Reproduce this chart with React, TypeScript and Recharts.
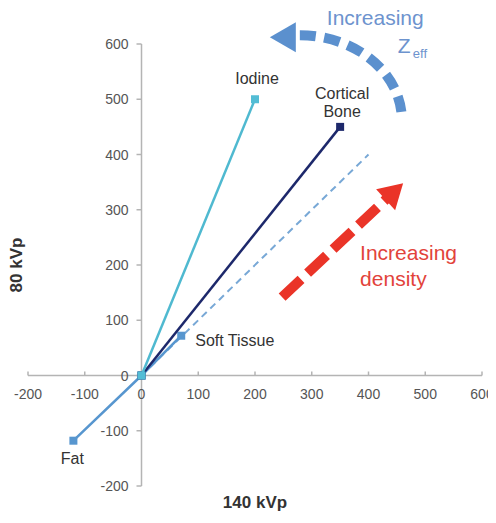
import {
  ComposedChart,
  Label,
  ReferenceDot,
  ReferenceLine,
  Scatter,
  XAxis,
  YAxis,
} from "recharts";

// CT numbers (HU) of each material at 140 kVp (x) and 80 kVp (y)
const fatSoftTissue = [
  { x: -120, y: -118, name: "Fat" },
  { x: 0, y: 0 },
  { x: 70, y: 72, name: "Soft Tissue" },
];
const corticalBone = [
  { x: 0, y: 0 },
  { x: 350, y: 450, name: "Cortical Bone" },
];
const iodine = [
  { x: 0, y: 0 },
  { x: 200, y: 500, name: "Iodine" },
];
const unityLine = [
  { x: 0, y: 0 },
  { x: 400, y: 400 },
];

const xTicks = [-200, -100, 0, 100, 200, 300, 400, 500, 600];
const yTicks = [-200, -100, 0, 100, 200, 300, 400, 500, 600];

const AXIS = "#b4b4b4";
const TICK_TEXT = "#555";
const RED = "#ea3428";
const BLUE = "#5b90ce";

// where each material name sits relative to its marker
const LABELS: Record<string, { dx: number; dy: number; anchor: string }> = {
  Iodine: { dx: 2, dy: -15, anchor: "middle" },
  "Cortical Bone": { dx: 2, dy: -28, anchor: "middle" },
  "Soft Tissue": { dx: 14, dy: 10, anchor: "start" },
  Fat: { dx: -1, dy: 23, anchor: "middle" },
};

function squareMarker(color: string, size = 8) {
  return (props: any) => {
    const { cx, cy, payload } = props;
    const lbl = payload?.name ? LABELS[payload.name] : undefined;
    const words: string[] = payload?.name === "Cortical Bone" ? payload.name.split(" ") : [payload?.name];
    return (
      <g>
        <rect x={cx - size / 2} y={cy - size / 2} width={size} height={size} fill={color} />
        {lbl && (
          <text x={cx + lbl.dx} y={cy + lbl.dy} textAnchor={lbl.anchor} fontSize={16} fill="#333">
            {words.map((w, i) => (
              <tspan key={w} x={cx + lbl.dx} dy={i === 0 ? 0 : 18}>
                {w}
              </tspan>
            ))}
          </text>
        )}
      </g>
    );
  };
}

const noMarker = () => <g />;

const XTick = (props: any) => {
  const { cx, cy, payload } = props;
  return (
    <g>
      <line x1={cx} x2={cx} y1={cy - 4} y2={cy} stroke={AXIS} strokeWidth={1.5} />
      <text x={cx} y={cy + 23} textAnchor="middle" fontSize={14} fill={TICK_TEXT}>
        {payload.x}
      </text>
    </g>
  );
};

const YTick = (props: any) => {
  const { cx, cy, payload } = props;
  return (
    <g>
      <line x1={cx - 5} x2={cx} y1={cy} y2={cy} stroke={AXIS} strokeWidth={1.5} />
      <text x={cx - 13} y={cy + 5} textAnchor="end" fontSize={14} fill={TICK_TEXT}>
        {payload.y}
      </text>
    </g>
  );
};

// curved dashed arrow, anchored at the centre of its arc
const ZeffArrow = (props: any) => {
  const { cx, cy } = props;
  return (
    <g>
      <path
        d={`M ${cx} ${cy - 85} A 102 85 0 0 1 ${cx + 102} ${cy - 3}`}
        fill="none"
        stroke={BLUE}
        strokeWidth={10}
        strokeDasharray="16 8.5"
      />
      <polygon
        points={`${cx - 30},${cy - 83} ${cx - 4},${cy - 98} ${cx - 4},${cy - 68}`}
        fill={BLUE}
      />
      <text x={cx + 27} y={cy - 95} fontSize={21} fill="#6d93ce">
        Increasing
      </text>
      <text x={cx + 98} y={cy - 67} fontSize={21} fill="#6d93ce">
        Z
      </text>
      <text x={cx + 113} y={cy - 62} fontSize={13} fill="#6d93ce">
        eff
      </text>
    </g>
  );
};

// straight dashed arrow, anchored at its tip
const DensityArrow = (props: any) => {
  const { cx, cy } = props;
  return (
    <g>
      <line
        x1={cx - 121}
        y1={cy + 114}
        x2={cx - 17}
        y2={cy + 16}
        stroke={RED}
        strokeWidth={10}
        strokeDasharray="26 9"
      />
      <polygon points={`${cx},${cy} ${cx - 27},${cy + 6} ${cx - 8},${cy + 27}`} fill={RED} />
      <text x={cx - 43} y={cy + 77} fontSize={21} fill="#e2433b">
        Increasing
      </text>
      <text x={cx - 43} y={cy + 103} fontSize={21} fill="#e2433b">
        density
      </text>
    </g>
  );
};

export default function App() {
  return (
    <div style={{ width: 488, height: 510, fontFamily: "'Liberation Sans', Arial, sans-serif" }}>
      <style>{`.recharts-surface { overflow: visible; }`}</style>
      <ComposedChart width={488} height={510} margin={{ top: 36, right: 14, bottom: 0, left: 0 }}>
        <XAxis
          type="number"
          dataKey="x"
          domain={[-200, 600]}
          ticks={xTicks}
          tick={false}
          axisLine={false}
          tickLine={false}
          height={32}
        >
          <Label value="140 kVp" position="center" fontSize={17} fontWeight="bold" fill="#333" />
        </XAxis>
        <YAxis
          type="number"
          dataKey="y"
          domain={[-200, 600]}
          ticks={yTicks}
          tick={false}
          axisLine={false}
          tickLine={false}
          width={20}
        >
          <Label value="80 kVp" angle={-90} position="center" dx={-2} fontSize={17} fontWeight="bold" fill="#333" />
        </YAxis>

        <ReferenceLine x={0} stroke={AXIS} strokeWidth={1.5} />
        <ReferenceLine y={0} stroke={AXIS} strokeWidth={1.5} />
        <Scatter data={xTicks.map((v) => ({ x: v, y: 0 }))} shape={XTick} isAnimationActive={false} />
        <Scatter data={yTicks.map((v) => ({ x: 0, y: v }))} shape={YTick} isAnimationActive={false} />

        <Scatter
          data={unityLine}
          line={{ stroke: "#78a8d6", strokeWidth: 2, strokeDasharray: "7 5" }}
          shape={noMarker}
          isAnimationActive={false}
        />
        <Scatter
          data={fatSoftTissue}
          line={{ stroke: "#5796cf", strokeWidth: 2.5 }}
          shape={squareMarker("#5796cf")}
          isAnimationActive={false}
        />
        <Scatter
          data={corticalBone}
          line={{ stroke: "#1d286b", strokeWidth: 2.5 }}
          shape={squareMarker("#1d286b")}
          isAnimationActive={false}
        />
        <Scatter
          data={iodine}
          line={{ stroke: "#4fb9d0", strokeWidth: 2.5 }}
          shape={squareMarker("#53bdd5")}
          isAnimationActive={false}
        />

        <ReferenceDot x={279} y={462} r={0} shape={ZeffArrow} />
        <ReferenceDot x={461} y={348} r={0} shape={DensityArrow} />
      </ComposedChart>
    </div>
  );
}
